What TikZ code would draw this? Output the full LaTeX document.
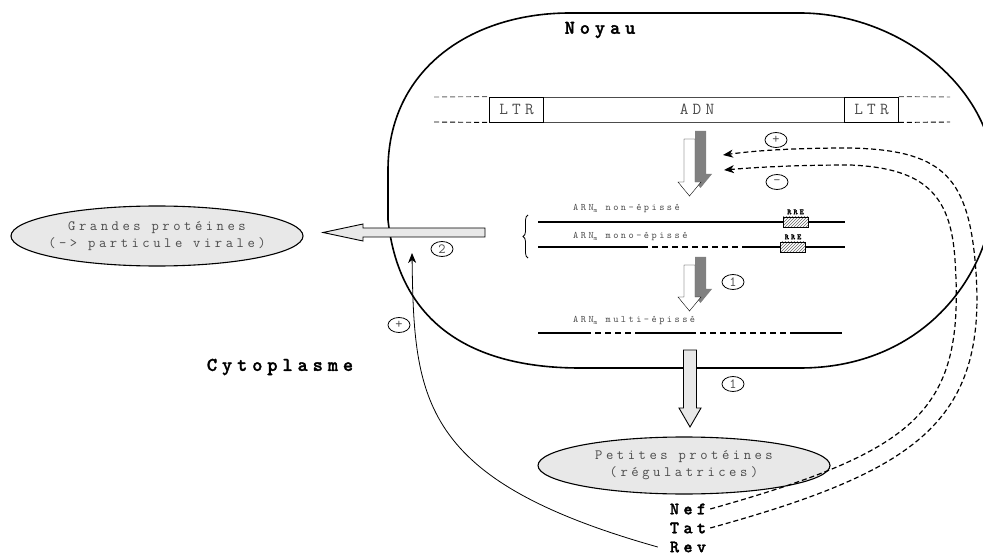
\documentclass[tikz,border=0pt]{standalone}
\usepackage{fontspec}
\usepackage{tikz}
\usetikzlibrary{arrows.meta, shapes.geometric, patterns, positioning, decorations.pathreplacing}
\newfontfamily\spacedmono[LetterSpace=25]{Latin Modern Mono}
\newfontfamily\boldmono[LetterSpace=25, FakeBold=1.5]{lmmonolt10-bold.otf}
\newfontfamily\plainmono{Latin Modern Mono}
\definecolor{txtgrey}{gray}{0.3}
\definecolor{lightfill}{gray}{0.91}
\definecolor{shadowgrey}{gray}{0.5}
% white splicing arrow with its grey shadow: centre x, top y, shaft length
\newcommand{\splicearrow}[3]{%
  \begin{scope}[shift={(#1,#2)}]
    \fill[shadowgrey] (5.5,-8) -- (16.5,-8) -- (16.5,#3-8) -- (22.5,#3-8) -- (11,#3+6) -- (-0.5,#3-8) -- (5.5,#3-8) -- cycle;
    \draw[fill=white, thin] (-5.5,0) -- (5.5,0) -- (5.5,#3) -- (11.5,#3) -- (0,#3+14) -- (-11.5,#3) -- (-5.5,#3) -- cycle;
  \end{scope}}

\begin{document}
\begin{tikzpicture}[x=1pt, y=-1pt,
    >={Stealth[length=10pt, width=8pt, inset=3pt]},
    region/.style = {inner sep=0pt, font=\boldmono\fontsize{19.5}{21}\selectfont},
    factor/.style = {inner sep=0pt, font=\boldmono\fontsize{17.4}{19}\selectfont},
    protein/.style = {ellipse, draw, line width=1.1pt, fill=lightfill, inner sep=0pt},
    proteintxt/.style = {align=center, text=txtgrey, font=\spacedmono\fontsize{14.2}{17}\selectfont},
    num/.style = {ellipse, draw, line width=0.8pt, minimum width=22pt, minimum height=15pt, inner sep=0pt, text=txtgrey, font=\plainmono\fontsize{14}{14}\selectfont},
    ltr/.style = {draw, line width=0.9pt, minimum width=54pt, minimum height=25pt, inner sep=0pt, text=txtgrey, font=\spacedmono\fontsize{16.8}{16.8}\selectfont},
    arn/.style = {anchor=west, inner sep=0pt, text=txtgrey, font=\spacedmono\fontsize{9.9}{10}\selectfont},
    rre/.style = {draw, line width=0.8pt, preaction={fill=white}, pattern=north east lines, pattern color=black!60, minimum width=25pt, minimum height=10pt, inner sep=0pt},
    rretxt/.style = {inner sep=0pt, font=\boldmono\fontsize{8}{8}\selectfont},
    bigarrow/.style = {draw, line width=0.9pt, fill=lightfill},
    rna/.style = {line width=1.1pt},
    gap/.style = {dash pattern=on 6pt off 4pt},
    feedback/.style = {->, line width=1.2pt, dash pattern=on 5pt off 3pt}]
  \useasboundingbox (0,0) rectangle (983,556);

  % noyau
  \draw[line width=1.6pt] (570,13) -- (800,13) .. controls (900,13) and (1000,90) .. (995,190)
    .. controls (990,280) and (920,368) .. (800,368) -- (580,368)
    .. controls (480,368) and (400,330) .. (388,220) -- (388,170)
    .. controls (388,70) and (470,13) .. (570,13) -- cycle;
  \node[region] (noyau) at (600,30) {Noyau};
  \node[region] (cyto) at (280,367) {Cytoplasme};

  % ADN
  \draw[black!70, line width=0.9pt] (489,97) rectangle (898,122);
  \node[ltr] (ltrL) at (516.5,109.5) {LTR};
  \node[ltr] (ltrR) at (871.5,109.5) {LTR};
  \node[text=txtgrey, font=\spacedmono\fontsize{16.8}{16.8}\selectfont] (adn) at (697,109.5) {ADN};
  \draw[black!60, line width=0.9pt, dash pattern=on 5pt off 3pt] (434,97) -- (ltrL.north west) (ltrR.north east) -- (950,97);
  \draw[line width=0.9pt, dash pattern=on 5pt off 3pt] (434,122) -- (ltrL.south west) (ltrR.south east) -- (950,122);

  \splicearrow{689.5}{139}{43}
  \splicearrow{689.5}{265}{32}

  % ARN
  \node[arn] (nonep) at (573,209) {ARN\textsubscript{m} non-épissé};
  \node[arn] (monoep) at (573,237) {ARN\textsubscript{m} mono-épissé};
  \node[arn] (multiep) at (573,321) {ARN\textsubscript{m} multi-épissé};
  \node[rre] (rreA) at (795.5,222) {};
  \node[rre] (rreB) at (793,247) {};
  \node[rretxt, above=2pt of rreA] {RRE};
  \node[rretxt, above=2pt of rreB] {RRE};
  \draw[rna] (538,222) -- (rreA.west) (rreA.east) -- (845,222);
  \draw[rna] (538,247) -- (642,247) (743,247) -- (rreB.west) (rreB.east) -- (845,247);
  \draw[rna, gap] (642,247) -- (743,247);
  \foreach \a/\b/\s in {538/585/solid, 585/637/gap, 637/690/solid, 690/793/gap, 793/842/solid}
    \draw[rna, \s] (\a,333) -- (\b,333);
  \draw[line width=0.8pt, decorate, decoration={brace, amplitude=5pt}] (528,258) -- (528,215);

  % proteines
  \draw[bigarrow] (485,228) -- (485,237) -- (363,237) -- (363,241) -- (323,232.5) -- (363,224) -- (363,228) -- cycle;
  \draw[bigarrow] (683.5,350) -- (696.5,350) -- (696.5,408) -- (701,408) -- (690,427) -- (679,408) -- (683.5,408) -- cycle;
  \node[protein, minimum width=292pt, minimum height=60pt] (grandes) at (157,236) {};
  \node[proteintxt] at (grandes) {Grandes protéines\\(-> particule virale)};
  \node[protein, minimum width=292pt, minimum height=57pt] (petites) at (684,465.5) {};
  \node[proteintxt] at (petites) {Petites protéines\\(régulatrices)};

  \node[num] (plus) at (776,140) {+};
  \node[num] (minus) at (777,182) {-};
  \node[num] (oneA) at (733,282) {1};
  \node[num] (oneB) at (733,384) {1};
  \node[num] (two) at (442,249) {2};
  \node[num] (plusrev) at (399,325) {+};

  % facteurs
  \node[factor] (nef) at (688,509) {Nef};
  \node[factor] (tat) at (688,528) {Tat};
  \node[factor] (rev) at (688,547) {Rev};
  \coordinate (tatin) at (723,155);
  \coordinate (nefin) at (724,170);
  \coordinate (revin) at (412,253);
  \draw[feedback] ([xshift=4pt]tat.east) .. controls (920,470) and (990,420) .. (975,260)
    .. controls (967,175) and (940,150) .. (850,148) .. controls (800,148) and (760,150) .. (tatin);
  \draw[feedback] ([xshift=4pt]nef.east) .. controls (920,450) and (965,410) .. (955,260)
    .. controls (951,195) and (925,168) .. (850,165) .. controls (800,165) and (760,167) .. (nefin);
  \draw[->, line width=0.8pt] ([xshift=-12pt]rev.west) .. controls (420,480) and (414,400) .. (revin);
\end{tikzpicture}
\end{document}
